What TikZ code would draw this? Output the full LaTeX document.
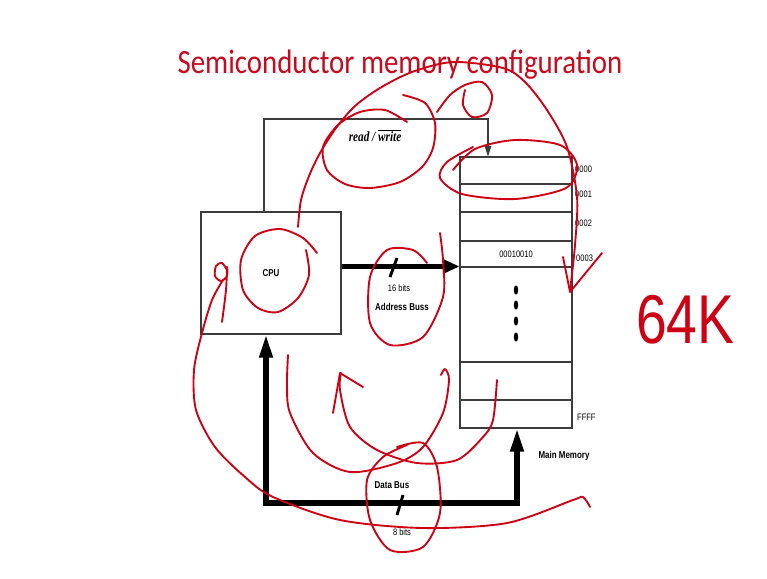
\documentclass[tikz,border=0pt]{standalone}
\usepackage{fontspec}
\setmainfont{Liberation Sans}[FakeStretch=0.8]
\newfontfamily\titlefont{Carlito}[FakeStretch=0.85]
\newfontfamily\rwfont{Liberation Serif}[FakeStretch=0.8]
\usepackage{tikz}
\usetikzlibrary{arrows.meta, positioning}
\definecolor{SlideRed}{RGB}{200, 10, 30}
\definecolor{InkRed}{RGB}{205, 0, 20}
\definecolor{BoxGray}{RGB}{60, 60, 60}

\begin{document}
\begin{tikzpicture}[
  x=0.03cm, y=-0.03cm,
  cpubox/.style={
    draw=BoxGray, line width=0.9pt,
    minimum width=4.2cm,
    minimum height=3.66cm,
    font=\bfseries\fontsize{8.5}{10}\selectfont},
  cell/.style={
    draw=BoxGray, line width=0.9pt,
    minimum width=3.36cm, inner sep=0pt,
    font=\fontsize{8}{10}\selectfont},
  addr/.style={
    anchor=west, inner sep=0pt,
    font=\fontsize{8}{10}\selectfont},
  label/.style={
    align=center, inner sep=0pt,
    font=\bfseries\fontsize{8.5}{10}\selectfont},
  small/.style={
    inner sep=0pt,
    font=\fontsize{8}{10}\selectfont},
  bus/.style={
    line width=4.3pt},
  slash/.style={
    line width=2.5pt},
  ctrl/.style={
    line width=0.9pt,
    -{Triangle[length=0.32cm, width=0.2cm]}},
  ink/.style={
    InkRed, line width=1.6pt,
    line cap=round, line join=round}
]

\fill[white] (0,0) rectangle (767,578);
\useasboundingbox (0,0) rectangle (767,578);

\node[anchor=base, inner sep=0pt, text=SlideRed,
  font=\titlefont\fontsize{29}{32}\selectfont]
  (title) at (400,73)
  {Semiconductor memory configuration};

\node[cpubox] (cpu) at (271,273) {CPU};

\node[cell, minimum height=0.81cm] (m0000) at (516,170.5) {};
\node[cell, minimum height=0.84cm] (m0001) at (516,198) {};
\node[cell, minimum height=0.87cm] (m0002) at (516,226.5) {};
\node[cell, minimum height=0.78cm] (m0003) at (516,254)
  {00010010};
\node[cell, minimum height=2.85cm] (mdots) at (516,314.5) {};
\node[cell, minimum height=1.14cm] (mfree) at (516,381) {};
\node[cell, minimum height=0.84cm] (mffff) at (516,414) {};

\foreach \y in {290,305,321,337}
  \fill (516,\y) ellipse [x radius=0.065cm, y radius=0.14cm];

\node[addr] (a0000) at (575,169) {0000};
\node[addr] (a0001) at (575,194) {0001};
\node[addr] (a0002) at (575,223) {0002};
\node[addr] (a0003) at (576,258) {0003};
\node[addr] (affff) at (577,417) {FFFF};

\node[label] (mainmem) at (564,456) {Main Memory};

\node[inner sep=0pt,
  font=\rwfont\bfseries\itshape\fontsize{12}{14}\selectfont]
  (rw) at (375,136) {read / $\overline{\mbox{write}}$};

\coordinate (rwl) at (264,119);
\coordinate (rwr) at (488,119);
\draw[ctrl, BoxGray] (cpu.north -| rwl) -- (rwl) -- (rwr)
  -- (m0000.north -| rwr);

\draw[bus, -{Triangle[length=0.5cm, width=0.42cm]}]
  (cpu.east |- mdots.north west) -- (mdots.north west);
\draw[slash] (397,258) -- (390,277);
\node[small] (abits) at (399,288) {16 bits};
\node[label] (abus) at (402,307) {Address Buss};

\coordinate (dbl) at (266,503);
\coordinate (dbr) at (517,503);
\draw[bus, {Triangle[length=0.69cm, width=0.38cm]}-{Triangle[length=0.69cm, width=0.38cm]}]
  (cpu.south -| dbl) -- (dbl) -- (dbr) -- (mffff.south -| dbr);
\draw[slash] (403,495) -- (397,515);
\node[label] (dbus) at (392,485) {Data Bus};
\node[small] (dbits) at (402,532) {8 bits};

\node[anchor=base west, inner sep=0pt, text=InkRed,
  font=\fontsize{59}{60}\selectfont]
  (size) at (636,343) {64K};

% pen marks
\draw[ink] plot[smooth] coordinates {(298,227) (301,200)
  (309,176) (320,153) (336,128) (355,106) (380,88) (412,72)
  (453,62) (503,68) (525,82) (547,110) (567,147) (577,197)
  (575,245) (570,291)};
\draw[ink] (563,257) -- (570,292) -- (602,253);
\draw[ink] plot[smooth] coordinates {(407,122) (385,110)
  (360,112) (338,125) (323,147) (327,170) (345,184) (370,188)
  (400,182) (422,167) (433,148) (435,123) (425,103) (403,95)};
\draw[ink] plot[smooth] coordinates {(437,112) (450,95)
  (465,85) (482,82) (492,95) (487,113) (472,117) (463,105)
  (465,90)};
\draw[ink] plot[smooth] coordinates {(453,170) (475,149)
  (515,140) (560,145) (577,165) (566,188) (515,199) (462,194)
  (440,178) (447,162) (473,147)};
\draw[ink] plot[smooth] coordinates {(317,253) (303,238)
  (280,229) (255,236) (241,260) (243,290) (258,308) (278,312)
  (298,298) (309,275) (306,250)};
\draw[ink] plot[smooth] coordinates {(227,270) (222,263)
  (216,266) (215,276) (221,281) (227,276) (227,267) (226,290)
  (222,322)};
\draw[ink] plot[smooth] coordinates {(223,280) (212,300)
  (202,333) (194,370) (196,410) (215,447) (245,477) (273,497)
  (340,520) (423,528) (507,523) (573,500) (583,497) (590,507)};
\draw[ink] plot[smooth] coordinates {(427,263) (413,250)
  (387,250) (370,277) (370,323) (390,345) (423,337) (443,297)
  (443,260) (440,233)};
\draw[ink] plot[smooth] coordinates {(441,375) (445,369)
  (449,380) (443,413) (423,447) (397,463) (350,472) (313,453)
  (290,413) (287,385) (288,355)};
\draw[ink] plot[smooth] coordinates {(497,380) (493,420)
  (483,437) (457,460) (417,463) (377,450) (350,427) (340,390)
  (341,373)};
\draw[ink] (333,413) -- (340,373) -- (363,387);
\draw[ink] plot[smooth] coordinates {(397,447) (423,443)
  (437,467) (440,513) (423,547) (390,550) (370,520) (367,480)
  (383,457) (407,445)};

\end{tikzpicture}
\end{document}
